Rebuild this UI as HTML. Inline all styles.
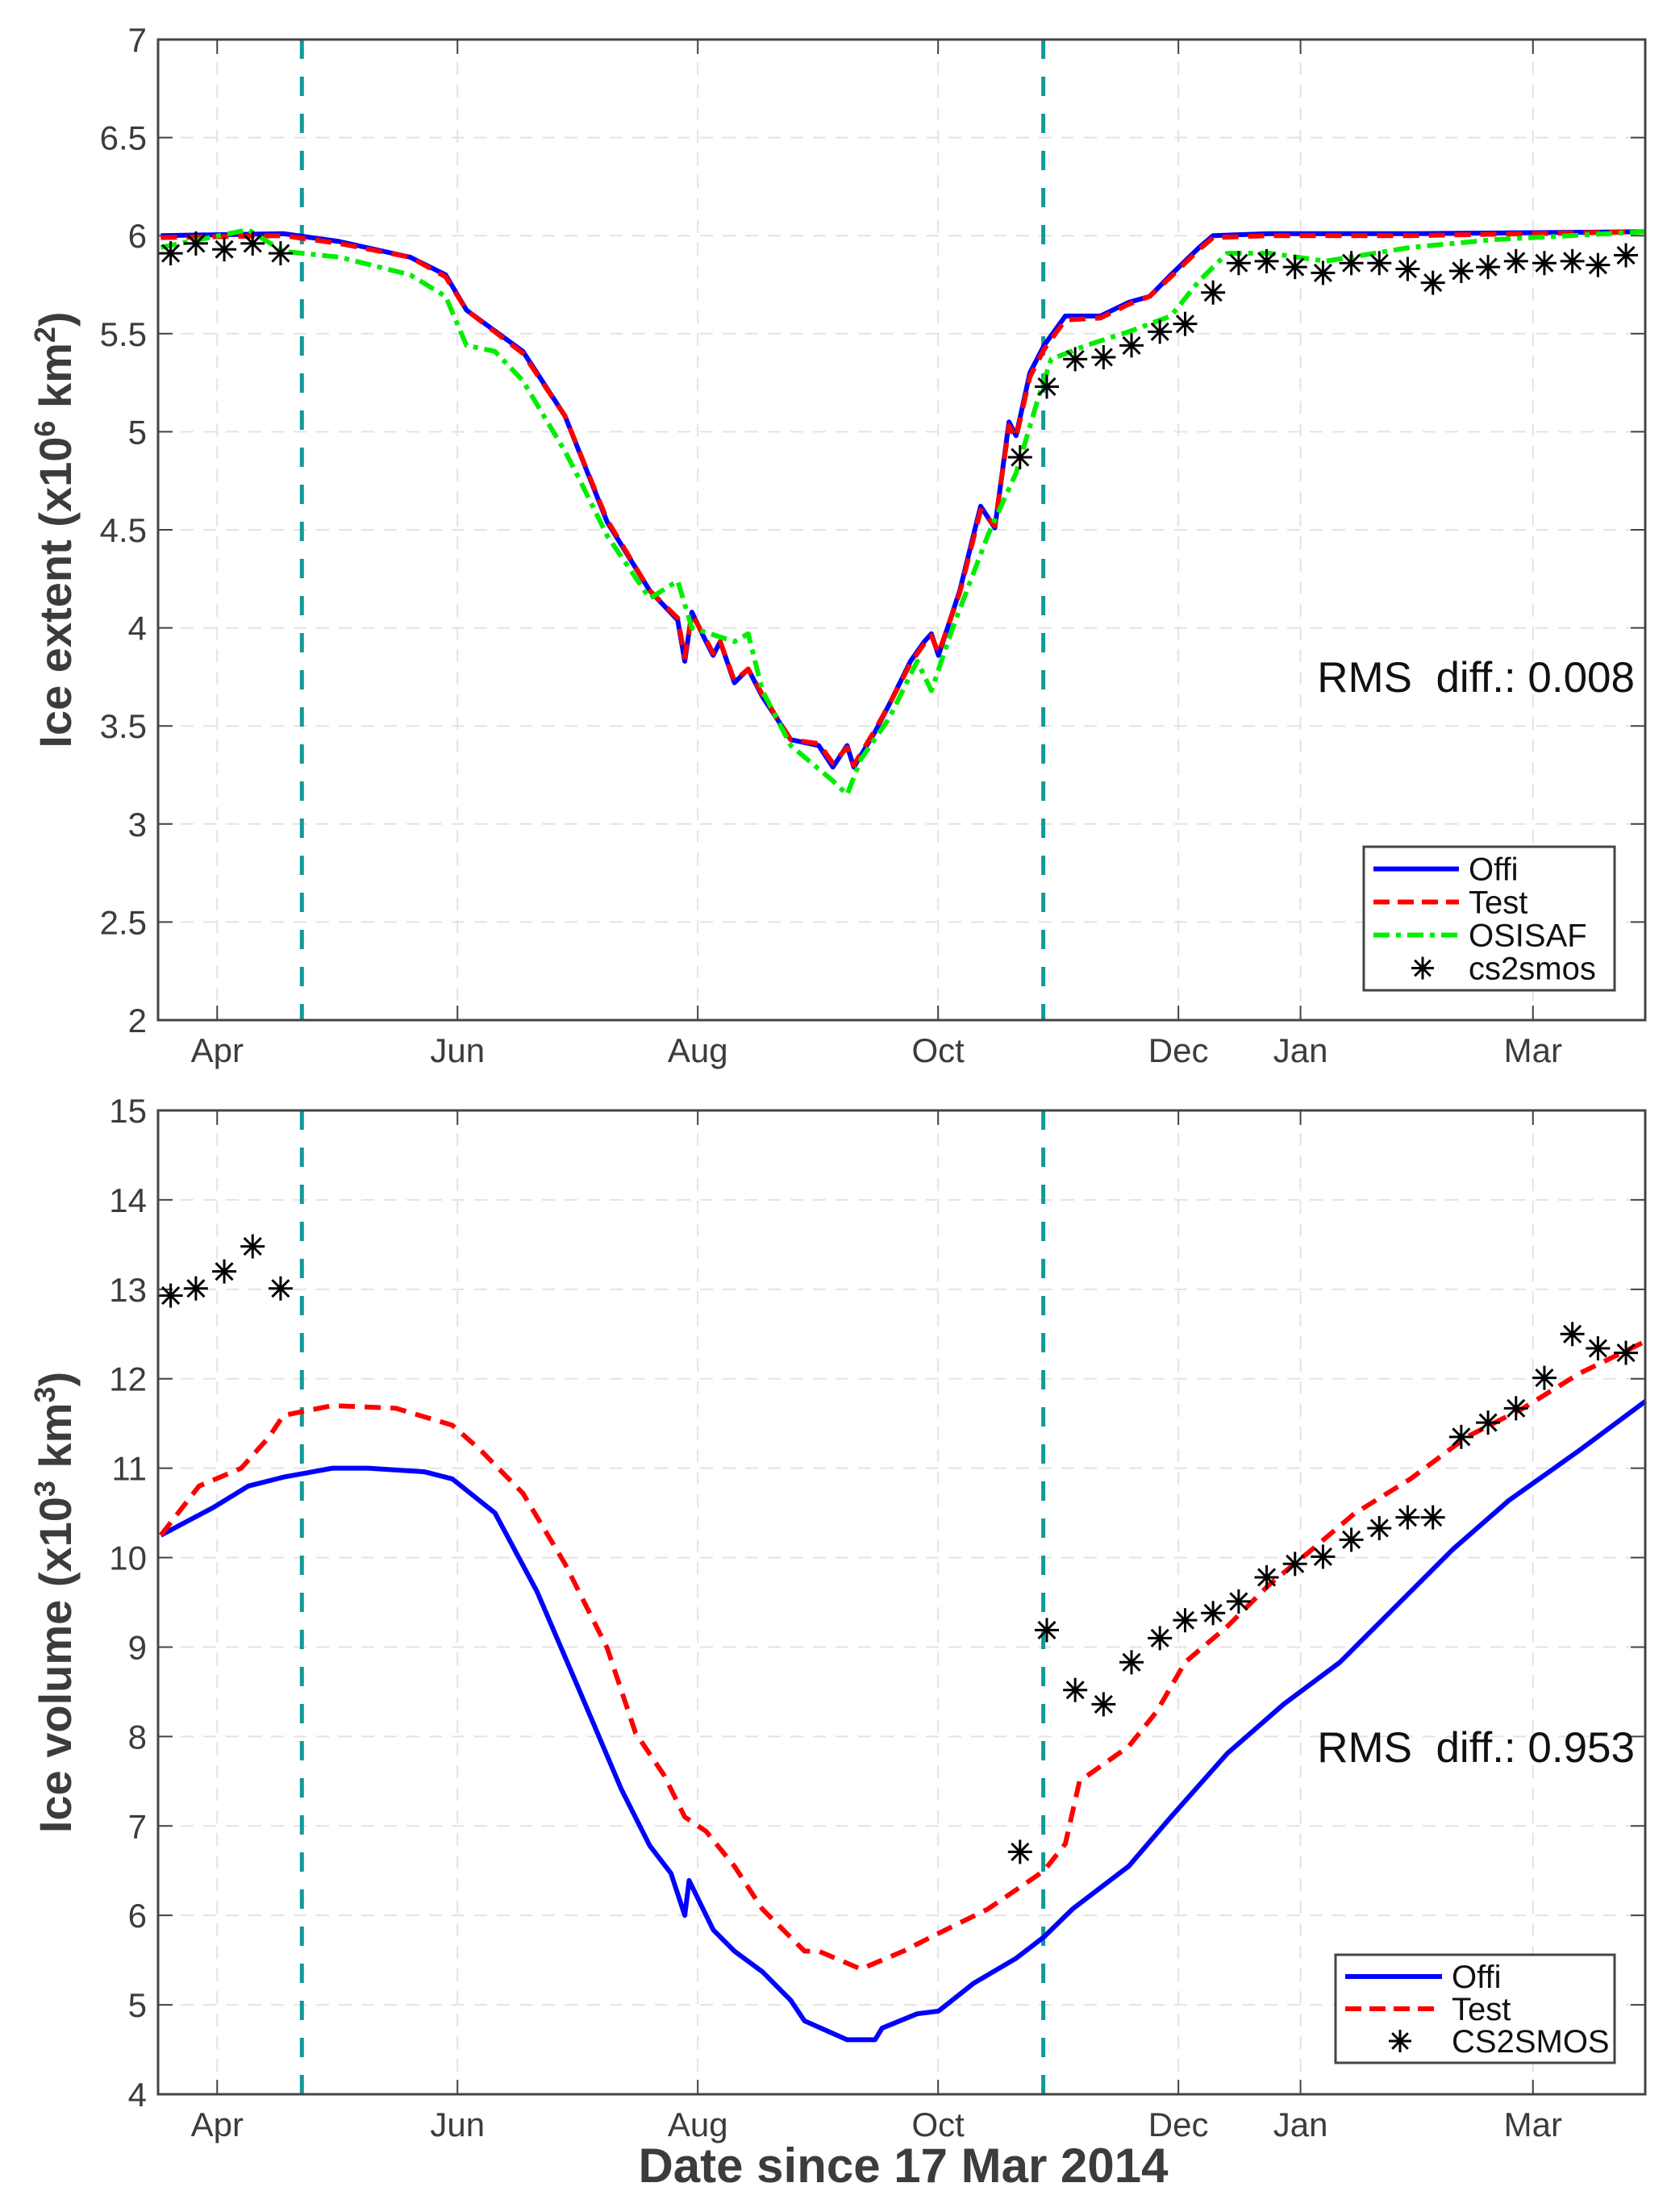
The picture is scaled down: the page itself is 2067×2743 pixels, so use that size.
<!DOCTYPE html>
<html><head><meta charset="utf-8"><style>
html,body{margin:0;padding:0;background:#fff}
svg{display:block;font-family:"Liberation Sans",Arial,sans-serif}
</style></head><body>
<svg id="chart" width="2067" height="2743" viewBox="0 0 2067 2743" xmlns="http://www.w3.org/2000/svg">
<rect width="2067" height="2743" fill="#fff"/>
</svg>
<script>
// ---- data (x = days since 17 Mar 2014) ----
const monthTickDays = [15, 76, 137, 198, 259, 290, 349];
const monthTickLabels = ['Apr','Jun','Aug','Oct','Dec','Jan','Mar'];
const eventDays = [36.5, 224.7];

const extOffiDays = [0.7,31.8,46,64,73,78.3,92.6,103.3,114,124.8,131.9,133.7,135.5,139.1,140.9,142.7,146.3,149.8,153.4,160.6,167.7,171.3,174.9,176.6,182,185.6,191,194.5,196.3,198.1,203.5,208.8,212.4,216,217.8,221.3,224.9,230.3,239.2,246.4,251.7,257.1,264.3,267.8,282,318,377.6];
const extOffi = [6.0,6.01,5.97,5.89,5.80,5.62,5.41,5.08,4.54,4.19,4.04,3.83,4.08,3.93,3.86,3.93,3.72,3.79,3.65,3.43,3.40,3.29,3.40,3.29,3.47,3.61,3.83,3.93,3.97,3.86,4.19,4.62,4.51,5.05,4.98,5.30,5.44,5.59,5.59,5.66,5.69,5.80,5.94,6.0,6.01,6.01,6.02];
const extTest = [5.99,6.0,5.96,5.89,5.79,5.62,5.40,5.08,4.55,4.19,4.05,3.85,4.07,3.94,3.87,3.93,3.73,3.79,3.66,3.43,3.41,3.31,3.39,3.30,3.48,3.61,3.82,3.92,3.96,3.87,4.18,4.60,4.52,5.03,4.97,5.28,5.42,5.57,5.58,5.65,5.69,5.79,5.93,5.99,6.0,6.0,6.02];
const extOsiDays = [0.7,22.9,31.8,46.1,64,73,78.3,85.5,92.6,103.3,106.9,114,124.8,131.9,135.5,146.3,149.8,153.4,160.6,171.3,174.9,178.4,185.6,192.7,196.3,201.7,210.6,217.8,223.1,226.7,235.6,246.4,257.1,264.3,271.4,282.1,296.4,317.9,339.4,377.6];
const extOsi = [5.94,6.03,5.92,5.89,5.80,5.69,5.44,5.41,5.26,4.90,4.76,4.47,4.15,4.24,4.00,3.93,3.97,3.68,3.40,3.22,3.15,3.33,3.54,3.83,3.68,4.00,4.47,4.79,5.15,5.37,5.44,5.51,5.59,5.77,5.91,5.91,5.87,5.94,5.98,6.02];
const extCsDays = [3.2,9.6,16.8,24,31.1,218.8,225.6,232.8,240,247.1,254.3,260.7,267.8,274.3,281.4,288.6,295.7,302.9,310,317.2,323.6,330.8,337.6,344.7,351.9,359,365.5,372.6];
const extCs = [5.91,5.96,5.93,5.96,5.91,4.87,5.23,5.37,5.38,5.44,5.51,5.55,5.71,5.86,5.87,5.84,5.81,5.86,5.86,5.83,5.76,5.82,5.84,5.87,5.86,5.87,5.85,5.90];

const volOffiDays = [0.7,14,22.9,31.8,44.3,53.3,67.6,74.7,85.5,96.2,106.9,117.6,124.8,130.2,133.7,134.8,140.9,146.3,153.4,160.6,164.1,174.9,182,183.8,192.7,198.1,207,217.8,224.9,232.1,246.4,257.1,271.4,285.7,300,314.3,328.6,342.9,360.8,377.6];
const volOffi = [10.25,10.56,10.8,10.9,11.0,11.0,10.96,10.88,10.5,9.62,8.52,7.41,6.78,6.47,6.0,6.39,5.84,5.6,5.37,5.05,4.82,4.61,4.61,4.74,4.9,4.93,5.24,5.52,5.76,6.07,6.55,7.1,7.81,8.36,8.83,9.46,10.09,10.64,11.2,11.75];
const volTestDays = [0.7,10.4,21.1,28.2,31.8,44.3,60.4,74.7,81.9,92.6,103.3,114,121.2,128.4,133.7,139.1,146.3,153.4,164.1,167.7,178.4,189.2,196.3,210.6,221.3,224.9,230.3,233.9,246.4,253.5,260.7,271.4,282.1,292.9,303.6,317.9,332.2,346.5,360.8,377.6];
const volTest = [10.25,10.8,11.0,11.35,11.59,11.7,11.67,11.48,11.2,10.72,9.93,8.99,8.04,7.57,7.1,6.94,6.55,6.07,5.6,5.6,5.4,5.6,5.76,6.07,6.39,6.5,6.8,7.5,7.89,8.28,8.83,9.23,9.7,10.09,10.49,10.88,11.35,11.67,12.06,12.42];
const volCsDays = [3.2,9.6,16.8,24,31.1,218.8,225.6,232.8,240,247.1,254.3,260.7,267.8,274.3,281.4,288.6,295.7,302.9,310,317.2,323.6,330.8,337.6,344.7,351.9,359,365.5,372.6];
const volCs = [12.93,13.01,13.2,13.48,13.01,6.71,9.19,8.52,8.36,8.83,9.1,9.3,9.38,9.51,9.78,9.93,10.01,10.2,10.33,10.45,10.45,11.35,11.51,11.67,12.01,12.5,12.34,12.29];

const extTicks = [2,2.5,3,3.5,4,4.5,5,5.5,6,6.5,7];
const extTickLabels = ['2','2.5','3','3.5','4','4.5','5','5.5','6','6.5','7'];
const volTicks = [4,5,6,7,8,9,10,11,12,13,14,15];
const volTickLabels = ['4','5','6','7','8','9','10','11','12','13','14','15'];

// ---- drawing ----
const NS = 'http://www.w3.org/2000/svg';
const svg = document.getElementById('chart');
function mk(tag, attrs, parent){ const e=document.createElementNS(NS,tag); for(const k in attrs) e.setAttribute(k,attrs[k]); (parent||svg).appendChild(e); return e; }
const X0=196, X1=2040, DMAX=377.5;
const xs = d => X0 + d/DMAX*(X1-X0);

function panel(cfg){
  const {top,bot,ymin,ymax,ticks,tickLabels,name} = cfg;
  const ys = v => bot - (v-ymin)/(ymax-ymin)*(bot-top);
  const g = mk('g',{});  
  ticks.forEach((t,i)=>{ if(i>0&&i<ticks.length-1){ const l=mk('line',{x1:X0,x2:X1,y1:ys(t),y2:ys(t),stroke:'#e3e3e3','stroke-width':2,'stroke-dasharray':'16 12'},g);   } });
  monthTickDays.forEach(d=>{ const l=mk('line',{x1:xs(d),x2:xs(d),y1:top,y2:bot,stroke:'#e3e3e3','stroke-width':2,'stroke-dasharray':'16 12'},g);   });
  ticks.forEach((t,i)=>{
    mk('line',{x1:X0,x2:X0+18,y1:ys(t),y2:ys(t),stroke:'#444','stroke-width':2},g);
    mk('line',{x1:X1-18,x2:X1,y1:ys(t),y2:ys(t),stroke:'#444','stroke-width':2},g);
    const tx=mk('text',{x:X0-14,y:ys(t)+15,'font-size':42,'text-anchor':'end',fill:'#3c3c3c'},g); tx.textContent=tickLabels[i];
     
  });
  monthTickDays.forEach((d,i)=>{
    mk('line',{x1:xs(d),x2:xs(d),y1:bot,y2:bot-18,stroke:'#444','stroke-width':2},g);
    mk('line',{x1:xs(d),x2:xs(d),y1:top,y2:top+18,stroke:'#444','stroke-width':2},g);
    const tx=mk('text',{x:xs(d),y:bot+52,'font-size':42,'text-anchor':'middle',fill:'#3c3c3c'},g); tx.textContent=monthTickLabels[i];
     
  });
  eventDays.forEach(d=>{ const l=mk('line',{x1:xs(d),x2:xs(d),y1:top,y2:bot,stroke:'#119a9a','stroke-width':5,'stroke-dasharray':'24 22'},g);   });
  const line=(days,vals,color,dash,nm)=>{ const p=mk('polyline',{points:days.map((d,i)=>xs(d)+','+ys(vals[i])).join(' '),fill:'none',stroke:color,'stroke-width':6,'stroke-linejoin':'round','stroke-dasharray':dash||'none'},g);   };
  const stars=(days,vals,nm)=>{ days.forEach((d,i)=>{ const x=xs(d),y=ys(vals[i]),r=15; const s=mk('g',{stroke:'#000','stroke-width':3},g);  
    mk('line',{x1:x-r,x2:x+r,y1:y,y2:y},s); mk('line',{x1:x,x2:x,y1:y-r,y2:y+r},s); mk('line',{x1:x-r*.7,x2:x+r*.7,y1:y-r*.7,y2:y+r*.7},s); mk('line',{x1:x-r*.7,x2:x+r*.7,y1:y+r*.7,y2:y-r*.7},s); }); };
  cfg.draw(line,stars);
  mk('rect',{x:X0,y:top,width:X1-X0,height:bot-top,fill:'none',stroke:'#444','stroke-width':3},g);
  const ty=(top+bot)/2;
  const tt=mk('text',{x:88,y:ty,'font-size':56,'font-weight':'bold','text-anchor':'middle',fill:'#3c3c3c',transform:`rotate(-90 88 ${ty})`},g);
  tt.innerHTML=cfg.title;  
  const rms=mk('text',{x:2027,y:cfg.rmsY,'font-size':53,'text-anchor':'end',fill:'#111'},g); rms.textContent='RMS\u00a0\u00a0diff.: '+cfg.rms;  
  const L=cfg.legend; const lg=mk('g',{},g);  
  mk('rect',{x:L.x,y:L.y,width:2002-L.x,height:L.rowH*L.items.length+14,fill:'#fff',stroke:'#444','stroke-width':3},lg);
  L.items.forEach((it,i)=>{ const cy=L.y+L.rowH*(i+0.5)+7; const ent=mk('g',{},lg);  
    if(it.star){ const x=L.x+L.sw/2+20,r=14; const s=mk('g',{stroke:'#000','stroke-width':3},ent); mk('line',{x1:x-r,x2:x+r,y1:cy,y2:cy},s); mk('line',{x1:x,x2:x,y1:cy-r,y2:cy+r},s); mk('line',{x1:x-r*.7,x2:x+r*.7,y1:cy-r*.7,y2:cy+r*.7},s); mk('line',{x1:x-r*.7,x2:x+r*.7,y1:cy+r*.7,y2:cy-r*.7},s); }
    else mk('line',{x1:L.x+12,x2:L.x+12+L.sw,y1:cy,y2:cy,stroke:it.c,'stroke-width':6,'stroke-dasharray':it.d||'none'},ent);
    const t=mk('text',{x:L.x+L.sw+24,y:cy+14,'font-size':40,fill:'#111'},ent); t.textContent=it.n; });
}

panel({name:'ice-extent',top:49,bot:1265,ymin:2,ymax:7,ticks:extTicks,tickLabels:extTickLabels,
  title:'Ice extent (x10<tspan font-size="36" dy="-20">6</tspan><tspan dy="20"> km</tspan><tspan font-size="36" dy="-20">2</tspan><tspan dy="20">)</tspan>',
  rms:'0.008',rmsY:858,
  legend:{x:1691,y:1050,rowH:41,sw:106,items:[{n:'Offi',c:'#0000ff'},{n:'Test',c:'#ff0000',d:'20 10'},{n:'OSISAF',c:'#00ee00',d:'20 8 6 8'},{n:'cs2smos',star:true}]},
  draw:(line,stars)=>{ line(extOffiDays,extOffi,'#0000ff',null,'offi-line'); line(extOffiDays,extTest,'#ff0000','20 12','test-line'); line(extOsiDays,extOsi,'#00ee00','20 8 6 8','osisaf-line'); stars(extCsDays,extCs,'cs2smos-marker'); }});

panel({name:'ice-volume',top:1377,bot:2597,ymin:4,ymax:15,ticks:volTicks,tickLabels:volTickLabels,
  title:'Ice volume (x10<tspan font-size="36" dy="-20">3</tspan><tspan dy="20"> km</tspan><tspan font-size="36" dy="-20">3</tspan><tspan dy="20">)</tspan>',
  rms:'0.953',rmsY:2185,
  legend:{x:1656,y:2424,rowH:40,sw:120,items:[{n:'Offi',c:'#0000ff'},{n:'Test',c:'#ff0000',d:'20 10'},{n:'CS2SMOS',star:true}]},
  draw:(line,stars)=>{ line(volOffiDays,volOffi,'#0000ff',null,'offi-line'); line(volTestDays,volTest,'#ff0000','20 12','test-line'); stars(volCsDays,volCs,'cs2smos-marker'); }});

const xt=mk('text',{x:1120,y:2706,'font-size':60,'font-weight':'bold','text-anchor':'middle',fill:'#3c3c3c'});
xt.textContent='Date since 17 Mar 2014';


</script>
</body></html>
